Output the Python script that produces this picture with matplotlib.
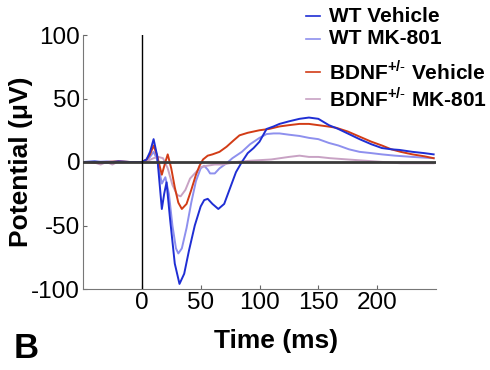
#!/usr/bin/env python3
import matplotlib
matplotlib.use("Agg")
import matplotlib.pyplot as plt  # draw plots
from matplotlib.lines import Line2D  # manual legend lines

plt.rcParams['font.family'] = ['Liberation Sans', 'DejaVu Sans']
plt.rcParams['axes.unicode_minus'] = False
plt.rcParams['mathtext.fontset'] = 'custom'
plt.rcParams['mathtext.rm'] = 'Liberation Sans'
plt.rcParams['mathtext.bf'] = 'Liberation Sans:bold'

# WT Vehicle (dark blue)
t_wt_veh = [-50, -40, -30, -20, -10, 0, 4, 7, 10, 13, 17, 19, 21, 24, 28, 32, 36,
            40, 45, 50, 53, 56, 60, 65, 70, 76, 80, 85, 90, 95, 100, 106, 112, 117,
            125, 134, 142, 150, 159, 167, 176, 185, 195, 204, 212, 219, 230, 240, 248]
v_wt_veh = [0, 0.5, -0.5, 0.5, 0, 0, 2, 8, 18, 5, -37, -25, -16, -45, -80, -96, -88,
            -70, -50, -35, -30, -29, -33, -37, -33, -18, -8, 0, 7, 11, 16, 26, 28, 30,
            32, 34, 35, 34, 29, 26, 22, 18, 14, 11, 10, 9.5, 8, 7, 6]

# WT MK-801 (light blue)
t_wt_mk = [-50, -40, -30, -20, -10, 0, 4, 7, 10, 13, 17, 20, 23, 26, 29, 31, 34, 38,
           42, 46, 50, 53, 56, 58, 62, 66, 72, 77, 85, 92, 100, 106, 112, 117, 125,
           134, 142, 150, 159, 167, 176, 185, 195, 204, 215, 230, 248]
v_wt_mk = [0, 0, 0.5, 0, 0, 0, 1, 4, 8, 2, -17, -12, -25, -50, -68, -72, -68, -52,
           -32, -15, -5, -3, -6, -9, -9, -5, -1, 3, 8, 14, 19, 22, 22.5, 22.5, 21.5,
           20.5, 19, 18, 15, 13, 10, 8, 7, 6, 5, 4, 3]

# BDNF+/- Vehicle (red)
t_bd_veh = [-50, -40, -30, -20, -10, 0, 4, 7, 10, 13, 17, 20, 22, 25, 28, 31, 34, 38,
            42, 46, 49, 52, 56, 60, 66, 72, 78, 83, 90, 100, 108, 117, 125, 134, 142,
            150, 158, 165, 175, 185, 195, 204, 212, 220, 230, 240, 248]
v_bd_veh = [0, -0.5, 0, 0.5, 0, 0, 2, 6, 13, 5, -10, 0, 6, -5, -20, -32, -37, -33,
            -22, -10, -3, 2, 5, 6, 8, 12, 17, 21, 23, 25, 26, 28, 29, 30, 30, 29, 28,
            27, 24, 20, 16, 13, 10, 8, 6, 4.5, 3]

# BDNF+/- MK-801 (pink)
t_bd_mk = [-50, -40, -35, -30, -25, -20, -10, 0, 5, 10, 14, 18, 22, 26, 30, 33, 37,
           41, 46, 50, 55, 62, 69, 80, 92, 110, 125, 134, 142, 150, 160, 175, 190,
           205, 220, 235, 248]
v_bd_mk = [0, -0.5, -2, 0, -2, 0.5, 0, 0, 1, 3, 4, 3, -5, -18, -26, -27, -22, -13,
           -8, -4, -3, -2, -2, 0, 1, 2, 4, 5, 4, 4, 3, 2, 1, 0, -1, -1, -1]

labels = ["WT Vehicle", "WT MK-801",
          r"BDNF$^{\mathbf{+/\text{-}}}$ Vehicle", r"BDNF$^{\mathbf{+/\text{-}}}$ MK-801"]
colors = ["#1f2ed4", "#8e90ee", "#d23c16", "#c8a2c4"]
x_ticks = [0, 50, 100, 150, 200]
y_ticks = [-100, -50, 0, 50, 100]

fig = plt.figure(figsize=(4.9, 3.7), dpi=100)
ax = fig.add_axes([83/490, 1 - 289/370, (436 - 83)/490, (289 - 35)/370])

series = [(t_wt_mk, v_wt_mk), (t_bd_mk, v_bd_mk), (t_bd_veh, v_bd_veh), (t_wt_veh, v_wt_veh)]
cols = [colors[1], colors[3], colors[2], colors[0]]
for (t, v), c in zip(series, cols):
    ax.plot(t, v, color=c, linewidth=1.4, zorder=2)

# reference lines
ax.axhline(0, color="#3a3a3a", linewidth=2.0, zorder=3)
ax.axvline(0, color="black", linewidth=1.0, zorder=3)

ax.set_xlim(-50, 250)
ax.set_ylim(-100, 100)
ax.set_xticks(x_ticks)
ax.set_yticks(y_ticks)
ax.tick_params(direction='in', length=3, width=0.8, color='#666666',
               labelsize=17.5, pad=2)
for side in ['top', 'right']:
    ax.spines[side].set_visible(False)
for side in ['left', 'bottom']:
    ax.spines[side].set_color('#777777')
    ax.spines[side].set_linewidth(0.8)

ax.set_xlabel("Time (ms)", fontsize=19, fontweight='bold')
ax.xaxis.set_label_coords((276 - 83)/353, -0.157)
ax.set_ylabel("Potential (\u03bcV)", fontsize=19, fontweight='bold')
ax.yaxis.set_label_coords(-0.142, 0.5)

# manual legend (two groups)
leg_y = [16, 39, 72, 99]
for lab, c, y in zip(labels, colors, leg_y):
    fy = 1 - y/370
    fig.add_artist(Line2D([306/490, 320/490], [fy, fy], color=c, linewidth=1.2))
    fig.text(329/490, fy, lab, fontsize=15, fontweight='bold',
             va='center', ha='left')

fig.text(14/490, 1 - 348/370, "B", fontsize=25, fontweight='bold',
         va='center', ha='left')

fig.savefig("out.png", dpi=100)
